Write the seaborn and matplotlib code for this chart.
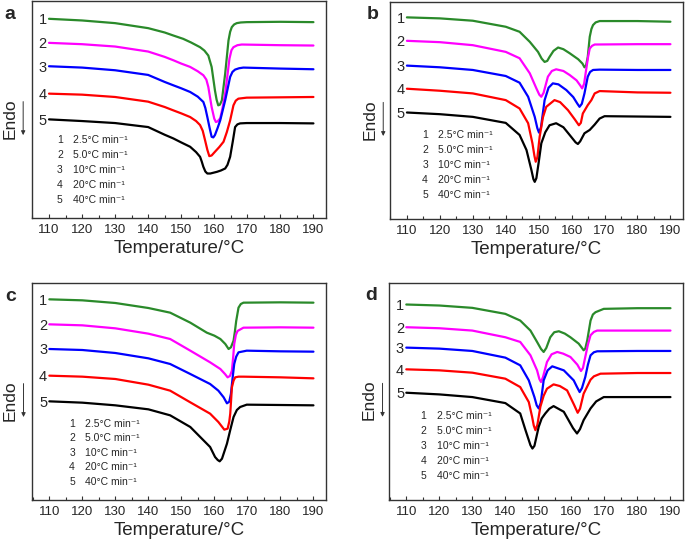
import matplotlib
matplotlib.use("Agg")
import matplotlib.pyplot as plt
import seaborn as sns
import pandas as pd
from matplotlib.ticker import MultipleLocator

# heating rates and curve colours (curve 1 .. 5)
rates = ["2.5", "5.0", "10", "20", "40"]
colors = ["#2a8a2a", "#ff00ff", "#0000ff", "#ff0000", "#000000"]

# ---- panel a : temperature (°C) / heat flow (a.u., endo down) ----
a1_temp = [110, 120, 130, 140, 145, 147.6, 150.6, 153, 155.7, 157, 158.2, 159.2, 160.2, 160.7, 161.2, 161.7, 162.3, 163.3, 164.3, 164.8, 165.3, 166, 166.8, 168, 169.8, 180, 190]
a1_heat = [59.7, 59.2, 58.4, 56.9, 55.6, 54.7, 53.7, 52.6, 51.2, 50.2, 48.7, 45.3, 38.3, 35.5, 33.8, 34.0, 35.3, 43.3, 53.2, 55.8, 57.2, 58.0, 58.4, 58.6, 58.7, 58.8, 58.7]
a2_temp = [110, 120, 130, 140, 145, 147.6, 150, 152.7, 155, 156.7, 157.6, 158.2, 159.2, 160, 160.5, 161, 161.8, 162.5, 163.3, 164.6, 165.2, 165.8, 167, 168.3, 180, 190]
a2_heat = [52.5, 52.1, 51.4, 49.9, 48.3, 47.3, 46.3, 45.3, 44.0, 42.8, 41.5, 39.3, 33.3, 29.8, 28.8, 29.0, 29.9, 33.0, 37.3, 47.8, 50.3, 51.2, 51.8, 52.0, 51.8, 51.7]
a3_temp = [110, 120, 130, 140, 145, 147.6, 150, 152.7, 155, 156.7, 157.3, 157.9, 158.6, 159.2, 159.7, 160.2, 161, 161.8, 163.3, 164.8, 165.5, 166.3, 167.5, 168.8, 180, 190]
a3_heat = [45.5, 45.1, 44.3, 42.9, 40.8, 39.8, 38.9, 37.8, 36.4, 34.8, 33.0, 30.3, 27.0, 24.4, 24.2, 24.9, 27.0, 29.3, 35.3, 42.3, 43.8, 44.5, 44.9, 45.1, 44.8, 44.6]
a4_temp = [110, 120, 130, 140, 145, 147.6, 150, 152.7, 154.5, 155.7, 156.5, 157.2, 157.9, 158.5, 159.2, 160.2, 161.5, 162.8, 163.8, 164.8, 165.8, 166.5, 167.3, 169.8, 180, 190]
a4_heat = [37.3, 37.0, 36.3, 34.9, 33.3, 32.3, 31.4, 30.3, 29.1, 27.9, 26.2, 23.4, 20.5, 18.6, 18.8, 19.9, 21.3, 22.9, 25.8, 29.3, 33.8, 35.2, 35.8, 36.1, 36.2, 36.3]
a5_temp = [110, 120, 130, 140, 145, 147.6, 150, 152.7, 154.5, 155.7, 156.2, 156.7, 157.3, 157.9, 158.8, 160.8, 162, 163.3, 164, 164.8, 165.6, 166.3, 167, 167.8, 169.8, 180, 190]
a5_heat = [29.6, 29.1, 28.5, 27.3, 25.0, 23.9, 22.7, 21.4, 19.8, 18.4, 17.0, 15.4, 14.0, 13.4, 13.4, 13.9, 14.3, 14.9, 16.0, 18.4, 23.0, 27.3, 28.1, 28.4, 28.5, 28.5, 28.4]

# ---- panel b ----
b1_temp = [110, 120, 130, 140, 144.2, 147.3, 149.8, 150.9, 151.8, 152.6, 153.3, 154.5, 155.9, 157.5, 159.4, 162, 163.3, 163.9, 164.4, 164.9, 165.5, 166, 166.5, 167.3, 168.5, 180, 190]
b1_heat = [60.3, 60.0, 59.3, 57.5, 56.0, 53.0, 50.0, 48.0, 47.0, 47.3, 48.5, 50.3, 51.3, 50.8, 49.6, 47.8, 46.5, 45.4, 46.0, 48.5, 54.5, 56.8, 58.0, 58.8, 59.2, 59.2, 59.0]
b2_temp = [110, 120, 130, 140, 144.2, 147.3, 149.3, 150.2, 150.8, 151.5, 152.8, 154, 155.3, 157.5, 159.4, 161.5, 162.6, 163.2, 163.8, 164.4, 165, 165.5, 166.2, 167, 180, 190]
b2_heat = [53.3, 52.9, 52.0, 50.0, 48.1, 43.6, 39.1, 37.2, 36.6, 37.8, 42.6, 44.3, 44.8, 44.3, 43.1, 41.5, 40.0, 39.1, 40.5, 44.6, 48.5, 51.0, 51.8, 52.2, 52.3, 52.3]
b3_temp = [110, 120, 130, 140, 144.2, 146.8, 148.8, 149.6, 150.1, 150.7, 151.8, 153, 154.3, 156, 158.4, 160.5, 161.7, 162.4, 163.1, 163.9, 164.9, 165.6, 166.5, 168.5, 180, 190]
b3_heat = [45.9, 45.4, 44.6, 42.8, 40.8, 36.6, 30.6, 27.2, 25.9, 27.5, 35.6, 39.3, 40.6, 40.3, 38.6, 36.5, 34.6, 33.6, 34.5, 37.6, 42.6, 44.0, 44.6, 44.7, 44.6, 44.6]
b4_temp = [110, 120, 130, 140, 144.2, 146.8, 148.1, 148.7, 149.1, 149.6, 150.3, 151.3, 152.3, 154.8, 156.5, 158.9, 161, 162.2, 162.8, 163.4, 164.9, 166, 167, 168.5, 180, 190]
b4_heat = [39.0, 38.4, 37.6, 35.6, 33.1, 28.7, 22.7, 19.0, 17.2, 18.5, 24.7, 30.5, 33.6, 35.6, 35.0, 32.6, 29.8, 28.1, 28.8, 31.6, 34.1, 35.6, 37.6, 38.3, 37.9, 37.8]
b5_temp = [110, 120, 130, 140, 144.2, 146.3, 147.8, 148.4, 148.8, 149.3, 150, 150.8, 152, 153.3, 155.3, 157.5, 159.4, 161.2, 161.9, 162.6, 163.9, 165.5, 167, 168.5, 170, 180, 190]
b5_heat = [31.9, 31.4, 30.6, 28.8, 25.2, 20.7, 14.7, 12.0, 11.2, 12.3, 17.0, 22.7, 26.0, 28.1, 28.7, 27.5, 25.2, 23.0, 22.5, 23.3, 25.7, 26.7, 28.3, 30.1, 30.8, 30.7, 30.6]

# ---- panel c ----
c1_temp = [110, 120, 130, 140, 146.6, 152.7, 157.7, 160, 161.8, 163.3, 164.3, 165, 165.8, 166.2, 166.6, 167.3, 168, 168.8, 180, 190]
c1_heat = [60.2, 59.9, 59.1, 57.6, 56.2, 53.2, 50.2, 49.3, 48.3, 46.8, 45.3, 45.8, 47.8, 50.5, 53.7, 57.7, 58.8, 59.2, 59.3, 59.2]
c2_temp = [110, 120, 130, 140, 146.6, 152.7, 158.7, 161.8, 163.2, 164, 164.7, 165.3, 165.7, 166, 166.5, 167, 168.8, 180, 190]
c2_heat = [52.7, 52.4, 51.5, 49.9, 48.3, 44.8, 41.3, 39.3, 37.8, 36.8, 37.2, 38.8, 43.0, 46.8, 49.5, 50.7, 51.7, 51.8, 51.7]
c3_temp = [110, 120, 130, 140, 146.6, 152.7, 158.7, 161.2, 162.8, 163.8, 164.5, 165, 165.5, 166, 166.6, 167.3, 169.8, 180, 190]
c3_heat = [45.3, 45.0, 44.1, 42.5, 40.8, 37.8, 34.8, 32.8, 30.8, 29.0, 29.5, 31.8, 36.5, 40.8, 43.0, 44.3, 44.8, 44.6, 44.5]
c4_temp = [110, 120, 130, 140, 146.6, 152.7, 158.7, 161.2, 162.3, 163, 164, 164.5, 164.8, 165.3, 165.8, 166.3, 167.3, 168.8, 180, 190]
c4_heat = [37.3, 37.0, 36.3, 34.6, 32.8, 29.3, 25.9, 23.4, 22.0, 21.1, 21.4, 23.5, 25.9, 33.8, 35.8, 36.8, 37.0, 37.0, 36.8, 36.5]
c5_temp = [110, 120, 130, 140, 146.6, 152.7, 155.7, 158.7, 160.2, 161, 161.6, 162.3, 163, 163.8, 164.8, 165.8, 166.8, 167.8, 169.8, 180, 190]
c5_heat = [29.6, 29.2, 28.4, 27.2, 25.4, 21.9, 18.9, 15.9, 12.9, 12.0, 11.6, 12.4, 14.5, 16.9, 21.0, 24.9, 27.0, 27.9, 28.6, 28.5, 28.4]

# ---- panel d ----
d1_temp = [110, 120, 130, 140, 144.5, 147.6, 149.6, 150.8, 151.6, 152.4, 153.6, 154.8, 156.2, 158, 159.7, 162.2, 163.2, 163.7, 164.2, 164.8, 165.8, 166.5, 167.3, 169.8, 180, 190]
d1_heat = [58.5, 58.2, 57.5, 55.7, 53.7, 50.7, 47.3, 45.2, 44.3, 45.5, 48.7, 50.2, 50.5, 49.8, 48.7, 46.8, 45.5, 44.8, 45.3, 47.8, 53.7, 55.5, 56.2, 57.2, 57.4, 57.4]
d2_temp = [110, 120, 130, 140, 144.5, 147.6, 149.6, 150.3, 150.8, 151.4, 152.6, 154, 155.7, 157.5, 159.7, 161.8, 162.9, 163.5, 164.2, 165, 165.8, 166.8, 167.8, 180, 190]
d2_heat = [51.7, 51.4, 50.7, 48.7, 47.3, 43.3, 38.8, 36.2, 35.3, 36.8, 41.3, 43.6, 44.3, 43.8, 42.8, 40.5, 38.6, 39.5, 42.8, 46.5, 49.3, 50.3, 50.7, 50.7, 50.7]
d3_temp = [110, 120, 130, 140, 144.5, 147.1, 148.8, 149.5, 150.1, 150.7, 151.6, 152.8, 154.2, 157.7, 160.7, 161.7, 162.5, 163.2, 164.2, 165, 165.8, 166.8, 167.8, 180, 190]
d3_heat = [45.6, 45.3, 44.6, 42.6, 40.3, 35.8, 30.8, 28.3, 27.4, 29.0, 35.8, 38.8, 40.0, 38.8, 35.8, 33.8, 32.3, 33.5, 36.8, 40.5, 43.3, 44.2, 44.5, 44.6, 44.6]
d4_temp = [110, 120, 130, 140, 144.5, 147.1, 148.1, 148.6, 149.1, 149.7, 150.6, 151.6, 152.6, 154.6, 156.5, 158.7, 160.8, 161.9, 162.6, 163.7, 165.8, 166.8, 168.8, 180, 190]
d4_heat = [39.1, 38.8, 38.1, 36.3, 33.8, 29.3, 24.9, 22.3, 20.9, 22.5, 27.9, 31.2, 33.3, 34.6, 34.1, 32.8, 28.5, 26.1, 27.3, 31.8, 36.0, 37.0, 37.8, 38.0, 38.0]
d5_temp = [110, 120, 130, 140, 144.5, 146.1, 147.6, 148.2, 148.8, 150.1, 151, 152.1, 153.3, 154.6, 157.7, 160.5, 161.7, 162.6, 163.7, 165.8, 167.5, 169.8, 180, 190]
d5_heat = [32.1, 31.6, 30.8, 29.0, 25.9, 20.9, 16.4, 15.4, 16.2, 21.9, 24.4, 25.9, 27.3, 28.1, 26.4, 21.5, 19.9, 21.2, 23.9, 27.4, 29.5, 30.8, 30.8, 30.8]

sns.set_style("white")
plt.rcParams["font.family"] = ["Liberation Sans", "DejaVu Sans"]

fig = plt.figure(figsize=(6.85, 5.43), dpi=100)

# axes boxes in figure fractions: a, b, c, d
boxes = {
    "a": [0.0467, 0.598, 0.4292, 0.400],
    "b": [0.5693, 0.596, 0.4277, 0.401],
    "c": [0.0472, 0.0792, 0.4287, 0.399],
    "d": [0.5683, 0.0792, 0.4288, 0.400],
}
panels = {
    "a": [(a1_temp, a1_heat), (a2_temp, a2_heat), (a3_temp, a3_heat), (a4_temp, a4_heat), (a5_temp, a5_heat)],
    "b": [(b1_temp, b1_heat), (b2_temp, b2_heat), (b3_temp, b3_heat), (b4_temp, b4_heat), (b5_temp, b5_heat)],
    "c": [(c1_temp, c1_heat), (c2_temp, c2_heat), (c3_temp, c3_heat), (c4_temp, c4_heat), (c5_temp, c5_heat)],
    "d": [(d1_temp, d1_heat), (d2_temp, d2_heat), (d3_temp, d3_heat), (d4_temp, d4_heat), (d5_temp, d5_heat)],
}
# legend placement (number x, text x, first row y, row step) in data units
legend_pos = {
    "a": (113.3, 117.3, 23.4, 4.45),
    "b": (115.5, 119.3, 25.2, 4.5),
    "c": (116.9, 120.9, 22.9, 4.35),
    "d": (115.2, 119.3, 25.2, 4.5),
}
edge = "#333333"

for key, box in boxes.items():
    ax = fig.add_axes(box)
    for i, (t, h) in enumerate(panels[key]):
        df = pd.DataFrame({"T": t, "H": h})
        sns.lineplot(data=df, x="T", y="H", ax=ax, color=colors[i], lw=1.6,
                     estimator=None, sort=False)
        ax.text(108.1, h[0] - 0.4, str(i + 1), ha="center", va="center", fontsize=10.5)

    nx, tx, y0, dy = legend_pos[key]
    for i, r in enumerate(rates):
        yy = y0 - i * dy
        ax.text(nx, yy, str(i + 1), ha="center", va="center", fontsize=7.5)
        ax.text(tx, yy, r + "°C min⁻¹", ha="left", va="center", fontsize=7.5)

    ax.set_xlim(104.85, 193.8)
    ax.set_ylim(0, 65)
    ax.set_yticks([])
    ax.set_ylabel("")
    ax.xaxis.set_major_locator(MultipleLocator(10))
    ax.xaxis.set_minor_locator(MultipleLocator(5))
    ax.set_xticks(range(110, 191, 10))
    ax.tick_params(axis="x", which="both", direction="in", bottom=True, top=False,
                   labelsize=9.5, pad=4, color=edge)
    ax.tick_params(axis="x", which="major", length=3, width=0.8)
    ax.tick_params(axis="x", which="minor", length=2, width=0.8)
    ax.set_xlabel("Temperature/°C", fontsize=13.5, labelpad=3)
    for s in ax.spines.values():
        s.set_color(edge)
        s.set_linewidth(1.0)

    # panel letter and Endo marker
    lx = -0.075 if key in ("a", "c") else -0.068
    ax.text(-0.075 if key in ("a", "c") else -0.060, 0.94, key, transform=ax.transAxes,
            fontsize=14, fontweight="bold", ha="center", va="center")
    ax.text(lx, 0.46, "Endo", transform=ax.transAxes, rotation=90,
            fontsize=12.5, ha="center", va="center")
    ax.annotate("", xy=(lx + 0.045, 0.37), xytext=(lx + 0.045, 0.55),
                xycoords="axes fraction", textcoords="axes fraction",
                arrowprops=dict(arrowstyle="-|>", lw=0.7, color=edge, mutation_scale=6),
                annotation_clip=False)

fig.savefig("out.png", dpi=100)
